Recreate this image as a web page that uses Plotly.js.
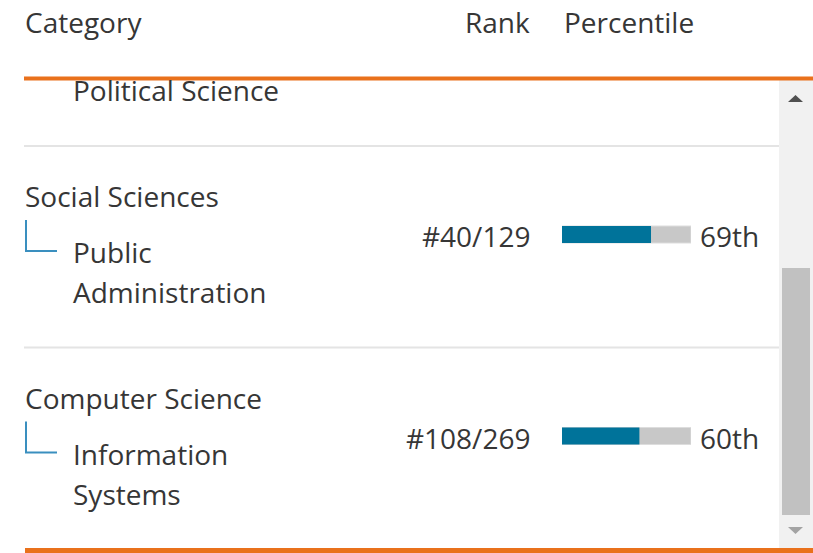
<!DOCTYPE html>
<html>
<head>
<meta charset="utf-8">
<script src="https://cdn.plot.ly/plotly-3.0.1.min.js"></script>
<style>
  html, body { margin: 0; padding: 0; background: #ffffff; }
  #chart { width: 813px; height: 553px; }
</style>
</head>
<body>
<div id="chart"></div>
<script>
// ---- data ----
var headers = ["Category", "Rank", "Percentile"];
var prevRowTail = "Political Science";
var categories = ["Social Sciences", "Computer Science"];
var subcategories = ["Public Administration", "Information Systems"];
var ranks = [40, 108];
var totals = [129, 269];
var percentiles = [69, 60];

// ---- helpers (layout only) ----
var W = 813, H = 553;
function px(x) { return x / W; }
function py(y) { return 1 - y / H; }
var ROW = 201.5;             // pixels per row
var ROW0 = 234.5;            // pixel centre of the first row
function u(pix) { return pix / ROW; }   // pixel offset -> row units
function ordinal(n) {
  var s = ["th", "st", "nd", "rd"], v = n % 100;
  return n + (s[(v - 20) % 10] || s[v] || s[0]);
}

var FONT = "Open Sans, Noto Sans, sans-serif";
var TXT = "#363636";
var FS = 28;

var idx = categories.map(function (_, i) { return i; });

var traces = [
  {
    type: "bar", orientation: "h",
    y: idx, x: idx.map(function () { return 100; }),
    width: u(17),
    marker: { color: "#c8c8c8", line: { color: "#dddddd", width: 1 } },
    hoverinfo: "skip"
  },
  {
    type: "bar", orientation: "h",
    y: idx, x: percentiles,
    width: u(17),
    marker: { color: "#00739a", line: { width: 0 } },
    hoverinfo: "skip"
  }
];

var annotations = [];
function ann(text, x, y, xanchor, yref) {
  annotations.push({
    text: text, x: x, y: y, xref: "paper", yref: yref || "paper",
    xanchor: xanchor, yanchor: "middle", showarrow: false,
    font: { family: FONT, size: FS, color: TXT }, borderpad: 0
  });
}
// header
ann(headers[0], px(24), py(22), "left");
ann(headers[1], px(531), py(22), "right");
ann(headers[2], px(563), py(22), "left");
// tail of the previous (scrolled) row
ann(prevRowTail, px(72), idx[0] - 1 + u(56.5), "left", "y");

var shapes = [];
categories.forEach(function (cat, i) {
  var sub = subcategories[i];
  var sp = sub.indexOf(" ");
  var lines = [sub.slice(0, sp), sub.slice(sp + 1)];
  ann(cat, px(24), i + u(196 - ROW0), "left", "y");
  ann(lines[0], px(72), i + u(252 - ROW0), "left", "y");
  ann(lines[1], px(72), i + u(292 - ROW0), "left", "y");
  ann("#" + ranks[i] + "/" + totals[i], px(531), i + u(236 - ROW0), "right", "y");
  ann(ordinal(percentiles[i]), px(699), i + u(236 - ROW0), "left", "y");
  // row separator
  shapes.push({ type: "line", xref: "paper", yref: "y",
    x0: px(24), x1: px(779), y0: i + u(146 - ROW0), y1: i + u(146 - ROW0),
    line: { color: "#e4e4e4", width: 2 } });
  // tree connector
  shapes.push({ type: "path", xref: "paper", yref: "y",
    path: "M " + px(26) + " " + (i + u(220 - ROW0)) + " L " + px(26) + " " + (i + u(251 - ROW0)) +
          " L " + px(57) + " " + (i + u(251 - ROW0)),
    line: { color: "#3a8fbf", width: 2 } });
});

// scrollbar
shapes.push({ type: "rect", xref: "paper", yref: "paper", x0: px(779), x1: px(813), y0: py(80), y1: py(548),
  fillcolor: "#f1f1f1", line: { width: 0 }, layer: "below" });
shapes.push({ type: "rect", xref: "paper", yref: "paper", x0: px(782), x1: px(810), y0: py(268), y1: py(515),
  fillcolor: "#c1c1c1", line: { width: 0 } });
shapes.push({ type: "path", xref: "paper", yref: "paper",
  path: "M " + px(788) + " " + py(102) + " L " + px(803) + " " + py(102) + " L " + px(795.5) + " " + py(95) + " Z",
  fillcolor: "#505050", line: { width: 0 } });
shapes.push({ type: "path", xref: "paper", yref: "paper",
  path: "M " + px(788) + " " + py(527) + " L " + px(803) + " " + py(527) + " L " + px(795.5) + " " + py(534) + " Z",
  fillcolor: "#a3a3a3", line: { width: 0 } });
// orange rules
shapes.push({ type: "rect", xref: "paper", yref: "paper", x0: px(24), x1: px(813), y0: py(80.5), y1: py(76.5),
  fillcolor: "#e9711c", line: { width: 0 } });
shapes.push({ type: "rect", xref: "paper", yref: "paper", x0: px(25), x1: px(813), y0: py(553), y1: py(548),
  fillcolor: "#e9711c", line: { width: 0 } });

var layout = {
  width: W, height: H,
  margin: { l: 0, r: 0, t: 0, b: 0, pad: 0 },
  paper_bgcolor: "#ffffff", plot_bgcolor: "rgba(0,0,0,0)",
  showlegend: false, barmode: "overlay", hovermode: false,
  xaxis: { domain: [px(562), px(691)], range: [0, 100], visible: false, fixedrange: true },
  yaxis: { domain: [0, 1], range: [u(H - ROW0), u(-ROW0)], visible: false, fixedrange: true },
  annotations: annotations,
  shapes: shapes
};

Plotly.newPlot("chart", traces, layout, { displayModeBar: false, staticPlot: true });
</script>
</body>
</html>
